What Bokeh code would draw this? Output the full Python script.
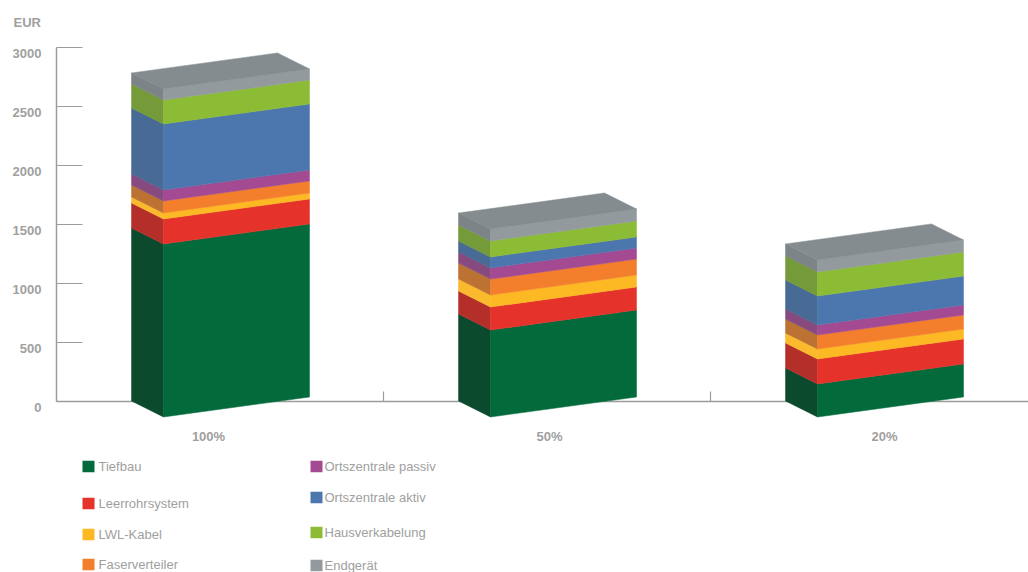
from bokeh.plotting import figure
from bokeh.models import LinearAxis, FixedTicker, Range1d
from bokeh.core.properties import value
from bokeh.embed import file_html
from bokeh.resources import INLINE

# ---- data ----
categories = ["100%", "50%", "20%"]
series = ["Tiefbau", "Leerrohrsystem", "LWL-Kabel", "Faserverteiler",
          "Ortszentrale passiv", "Ortszentrale aktiv", "Hausverkabelung", "Endgerät"]
tiefbau = [1466, 737, 280]
leerrohrsystem = [212, 195, 212]
lwl_kabel = [51, 102, 84]
faserverteiler = [102, 135, 119]
ortszentrale_passiv = [93, 94, 85]
ortszentrale_aktiv = [559, 93, 245]
hausverkabelung = [203, 136, 204]
endgeraet = [94, 101, 102]
y_ticks = [0, 500, 1000, 1500, 2000, 2500, 3000]

stack = [tiefbau, leerrohrsystem, lwl_kabel, faserverteiler,
         ortszentrale_passiv, ortszentrale_aktiv, hausverkabelung, endgeraet]

# ---- styles ----
front_colors = ["#036a3c", "#e5322b", "#fdb924", "#f37f2c", "#a34a92", "#4b76ae", "#8cbb35", "#929a9e"]
side_colors = ["#0c4a2e", "#b52f2a", "#fbb92e", "#bb7233", "#864a7e", "#476b94", "#759a3a", "#7c8487"]
top_color = "#858c8f"
grey = "#a0a0a0"
line_grey = "#9c9c9c"
FONT = value("Liberation Sans")

# ---- layout (pixels in the page) ----
W, H = 1028, 572
AXIS_X, BASE_Y, PX_PER_500, BAND = 56, 400.5, 59.0, 327.0

def dx(px):
    return px / BAND

def dy(px):
    return px * 500.0 / PX_PER_500

def X(px):
    return dx(px - AXIS_X)

def Y(py):
    return dy(BASE_Y - py)

p = figure(width=W, height=H, output_backend="svg", toolbar_location=None,
           x_range=Range1d(X(0), X(W)),
           y_range=Range1d(Y(H), Y(0)),
           x_axis_type=None, y_axis_type=None,
           min_border_left=0, min_border_right=0,
           min_border_top=0, min_border_bottom=0, outline_line_color=None,
           background_fill_color="white", border_fill_color="white")
p.grid.visible = False

# left axis, fixed on the frame so that all texts can share the canvas
ya = LinearAxis(ticker=FixedTicker(ticks=y_ticks), bounds=(0, 3000), fixed_location=0,
                axis_line_color=line_grey, axis_line_width=1.5,
                major_tick_line_color=line_grey, major_tick_line_width=1.2,
                major_tick_in=26, major_tick_out=0, minor_tick_line_color=None,
                major_label_overrides={v: "" for v in y_ticks})
ya.level = "underlay"
p.add_layout(ya, "left")

p.text(x=[X(41)] * len(y_ticks), y=y_ticks, y_offset=6, text=[str(v) for v in y_ticks],
       text_align="right", text_baseline="middle", text_color=grey,
       text_font=FONT, text_font_style="bold", text_font_size="13px")

# baseline with ticks between the groups
xa = LinearAxis(ticker=FixedTicker(ticks=[1, 2]), bounds=(0, X(W)), fixed_location=0,
                axis_line_color=line_grey, axis_line_width=1.5,
                major_tick_line_color=line_grey, major_tick_line_width=1.2,
                major_tick_in=10, major_tick_out=0, minor_tick_line_color=None,
                major_label_overrides={1: "", 2: ""})
xa.level = "underlay"
p.add_layout(xa, "below")

# 3D bars
BAR_LEFT, DEPTH_X, FRONT_W, DEPTH_Y, SHEAR = 75, 32, 146, 16, 20
for i, cat in enumerate(categories):
    xl = i + dx(BAR_LEFT)
    xf = xl + dx(DEPTH_X)
    xr = xf + dx(FRONT_W)
    xb = xr - dx(DEPTH_X)
    d, s = dy(DEPTH_Y), dy(SHEAR)
    base = 0.0
    for k, vals in enumerate(stack):
        top = base + vals[i]
        p.patch([xl, xf, xf, xl], [base, base - d, top - d, top],
                fill_color=side_colors[k], line_color=side_colors[k], line_width=0.5)
        p.patch([xf, xr, xr, xf], [base - d, base - d + s, top - d + s, top - d],
                fill_color=front_colors[k], line_color=front_colors[k], line_width=0.5)
        base = top
    p.patch([xl, xf, xr, xb], [base, base - d, base - d + s, base + s],
            fill_color=top_color, line_color=top_color, line_width=0.5)

# category labels
cat_x_px = [208, 549, 884]
p.text(x=[X(v) for v in cat_x_px], y=[Y(436)] * 3, text=categories,
       text_align="center", text_baseline="middle", text_color=grey,
       text_font=FONT, text_font_style="bold", text_font_size="13px")

# legend
legend_x_px = [82, 82, 82, 82, 310, 310, 310, 310]
legend_y_px = [466, 503, 534, 564, 466, 497, 532, 565]
legend_text_px = [98, 98, 98, 98, 324, 324, 324, 324]
p.rect(x=[X(v + 6) for v in legend_x_px], y=[Y(v) for v in legend_y_px],
       width=dx(12), height=dy(11.5), fill_color=front_colors, line_color=None)
p.text(x=[X(v) for v in legend_text_px], y=[Y(v) for v in legend_y_px], text=series,
       text_align="left", text_baseline="middle", text_color=grey,
       text_font=FONT, text_font_size="13px")

# unit label
p.text(x=[X(13)], y=[Y(22)], text=["EUR"], text_align="left", text_baseline="middle",
       text_color=grey, text_font=FONT, text_font_style="bold", text_font_size="13px")

open("out.html", "w").write(file_html(p, INLINE))
